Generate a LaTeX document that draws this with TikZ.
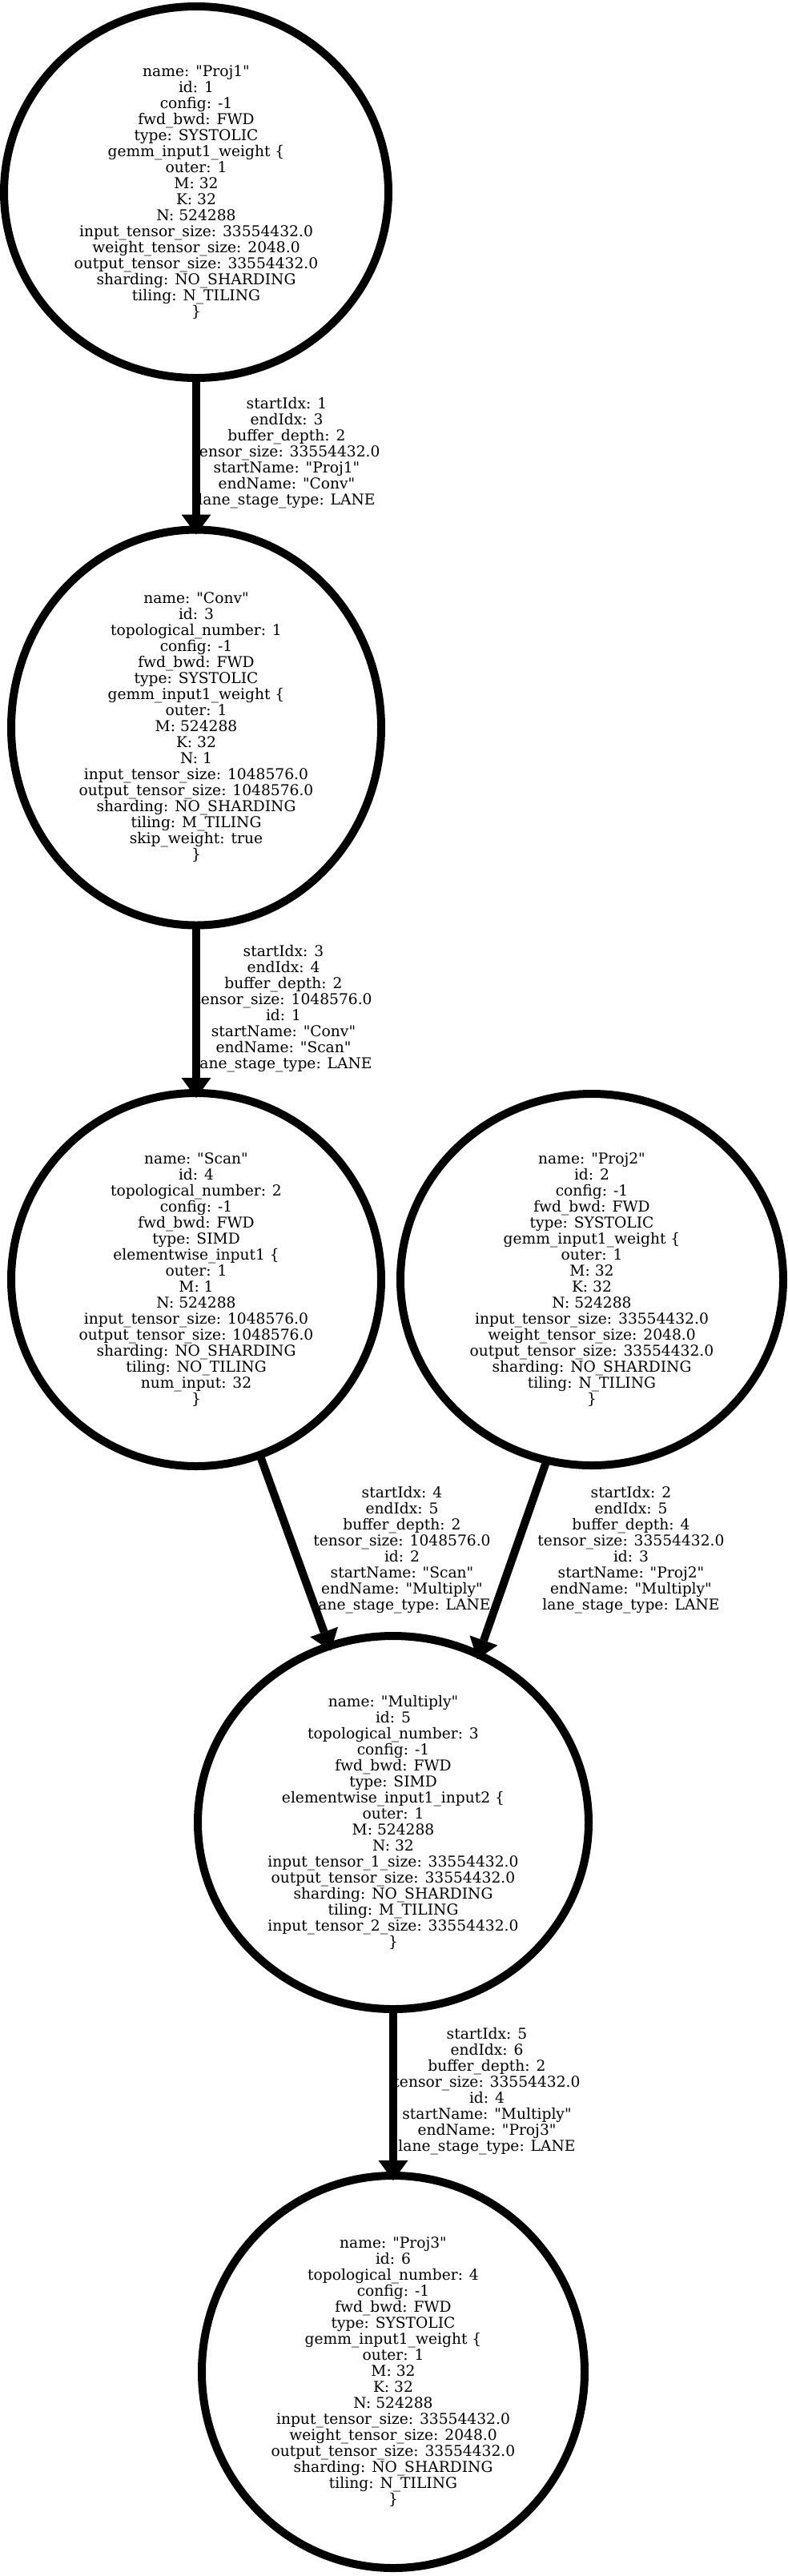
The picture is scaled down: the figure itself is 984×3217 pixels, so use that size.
\documentclass[tikz,border=0pt]{standalone}
\usepackage{fontspec}
\setmainfont{DejaVu Serif}[Ligatures=TeXOff]
\usetikzlibrary{shapes.geometric,arrows.meta}
\begin{document}
\begin{tikzpicture}[x=0.75pt,y=-0.75pt,
  opnode/.style={ellipse,draw,line width=7.5pt,inner sep=-20pt,outer sep=0pt,align=center,font=\fontsize{14pt}{15pt}\selectfont},
  elabel/.style={align=center,inner sep=0pt,font=\fontsize{14pt}{15pt}\selectfont},
  flow/.style={line width=7.5pt,-{Triangle[length=18.75pt,width=27.75pt,line width=0pt]},shorten >=-4.5pt}]
\useasboundingbox (0,0) rectangle (984,3217);

\node[opnode,minimum width=360pt,minimum height=348pt] (proj1) at (245,240)
 {name: "Proj1"\\id: 1\\config: -1\\fwd\_bwd: FWD\\type: SYSTOLIC\\gemm\_input1\_weight \{\\outer: 1\\M: 32\\K: 32\\N: 524288\\input\_tensor\_size: 33554432.0\\weight\_tensor\_size: 2048.0\\output\_tensor\_size: 33554432.0\\sharding: NO\_SHARDING\\tiling: N\_TILING\\\}};

\node[opnode,minimum width=346.5pt,minimum height=370.5pt] (conv) at (245,908.5)
 {name: "Conv"\\id: 3\\topological\_number: 1\\config: -1\\fwd\_bwd: FWD\\type: SYSTOLIC\\gemm\_input1\_weight \{\\outer: 1\\M: 524288\\K: 32\\N: 1\\input\_tensor\_size: 1048576.0\\output\_tensor\_size: 1048576.0\\sharding: NO\_SHARDING\\tiling: M\_TILING\\skip\_weight: true\\\}};

\node[opnode,minimum width=346.5pt,minimum height=349.5pt] (scan) at (245,1598)
 {name: "Scan"\\id: 4\\topological\_number: 2\\config: -1\\fwd\_bwd: FWD\\type: SIMD\\elementwise\_input1 \{\\outer: 1\\M: 1\\N: 524288\\input\_tensor\_size: 1048576.0\\output\_tensor\_size: 1048576.0\\sharding: NO\_SHARDING\\tiling: NO\_TILING\\num\_input: 32\\\}};

\node[opnode,minimum width=358.5pt,minimum height=348pt] (proj2) at (739,1598)
 {name: "Proj2"\\id: 2\\config: -1\\fwd\_bwd: FWD\\type: SYSTOLIC\\gemm\_input1\_weight \{\\outer: 1\\M: 32\\K: 32\\N: 524288\\input\_tensor\_size: 33554432.0\\weight\_tensor\_size: 2048.0\\output\_tensor\_size: 33554432.0\\sharding: NO\_SHARDING\\tiling: N\_TILING\\\}};

\node[opnode,minimum width=366pt,minimum height=349.5pt] (mult) at (491,2276)
 {name: "Multiply"\\id: 5\\topological\_number: 3\\config: -1\\fwd\_bwd: FWD\\type: SIMD\\elementwise\_input1\_input2 \{\\outer: 1\\M: 524288\\N: 32\\input\_tensor\_1\_size: 33554432.0\\output\_tensor\_size: 33554432.0\\sharding: NO\_SHARDING\\tiling: M\_TILING\\input\_tensor\_2\_size: 33554432.0\\\}};

\node[opnode,minimum width=358.5pt,minimum height=367.5pt] (proj3) at (491,2962)
 {name: "Proj3"\\id: 6\\topological\_number: 4\\config: -1\\fwd\_bwd: FWD\\type: SYSTOLIC\\gemm\_input1\_weight \{\\outer: 1\\M: 32\\K: 32\\N: 524288\\input\_tensor\_size: 33554432.0\\weight\_tensor\_size: 2048.0\\output\_tensor\_size: 33554432.0\\sharding: NO\_SHARDING\\tiling: N\_TILING\\\}};

\node[elabel] (l1) at (358,566) {startIdx: 1\\endIdx: 3\\buffer\_depth: 2\\tensor\_size: 33554432.0\\startName: "Proj1"\\endName: "Conv"\\lane\_stage\_type: LANE};
\node[elabel] (l2) at (354,1260) {startIdx: 3\\endIdx: 4\\buffer\_depth: 2\\tensor\_size: 1048576.0\\id: 1\\startName: "Conv"\\endName: "Scan"\\lane\_stage\_type: LANE};
\node[elabel] (l3) at (502,1935.5) {startIdx: 4\\endIdx: 5\\buffer\_depth: 2\\tensor\_size: 1048576.0\\id: 2\\startName: "Scan"\\endName: "Multiply"\\lane\_stage\_type: LANE};
\node[elabel] (l4) at (788,1935.5) {startIdx: 2\\endIdx: 5\\buffer\_depth: 4\\tensor\_size: 33554432.0\\id: 3\\startName: "Proj2"\\endName: "Multiply"\\lane\_stage\_type: LANE};
\node[elabel] (l5) at (608,2611.5) {startIdx: 5\\endIdx: 6\\buffer\_depth: 2\\tensor\_size: 33554432.0\\id: 4\\startName: "Multiply"\\endName: "Proj3"\\lane\_stage\_type: LANE};

\draw[flow] (proj1) -- (conv);
\draw[flow] (conv) -- (scan);
\draw[flow] (scan) -- (mult);
\draw[flow] (proj2.-104.1) -- (mult.63.05);
\draw[flow] (mult) -- (proj3);
\end{tikzpicture}
\end{document}
